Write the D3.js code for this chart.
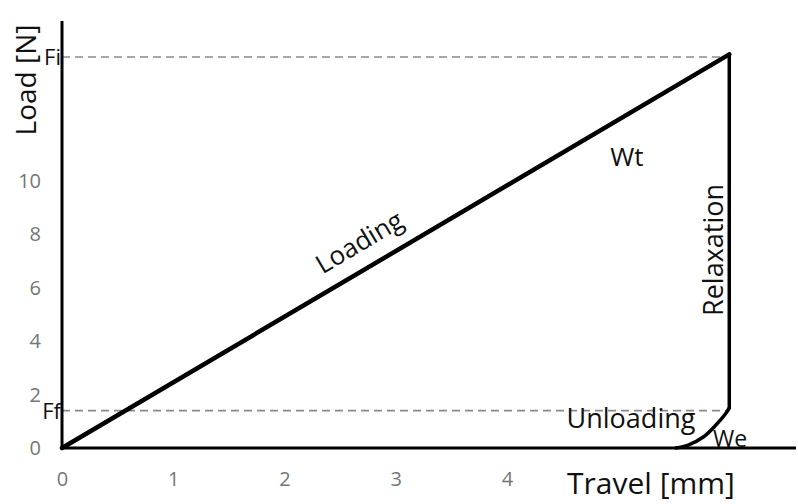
<!DOCTYPE html>
<html>
<head>
<meta charset="utf-8">
<script src="https://cdn.jsdelivr.net/npm/d3@7"></script>
<style>
  html, body { margin: 0; padding: 0; background: #fff; }
  svg { display: block; font-family: "Open Sans", "Noto Sans", sans-serif; }
</style>
</head>
<body>
<svg id="chart" width="798" height="504"></svg>
<script>
// Load–travel cycle: loading ramp, relaxation at constant travel, elastic unloading
const xTicks = [0, 1, 2, 3, 4];
const yTicks = [0, 2, 4, 6, 8, 10];

const loadingTravel = [0, 6.0];
const loadingLoad   = [0, 14.75];

const relaxTravel = [6.0, 6.0];
const relaxLoad   = [14.75, 1.5];

const unloadTravel = [6.0, 5.97, 5.88, 5.77, 5.63, 5.52];
const unloadLoad   = [1.5, 1.3, 0.86, 0.42, 0.11, 0];

const Fi = 14.65;   // initial (peak) load
const Ff = 1.4;     // final load after relaxation
const peakTravel = 6.0;

const svg = d3.select("#chart");

const x = d3.scaleLinear().domain([0, 6.6]).range([62, 796]);
const y = d3.scaleLinear().domain([0, 16]).range([448, 21]);

const zip = (a, b) => a.map((v, i) => [v, b[i]]);

// Reference levels Fi and Ff
svg.append("g")
  .selectAll("line")
  .data([Fi, Ff])
  .join("line")
  .attr("x1", x(0)).attr("x2", x(peakTravel))
  .attr("y1", d => y(d)).attr("y2", d => y(d))
  .attr("stroke", "#8a8a8a")
  .attr("stroke-width", 1.6)
  .attr("stroke-dasharray", "8,5");

// Axes (lines only, labels drawn without tick marks)
const xAxis = d3.axisBottom(x).tickValues(xTicks).tickFormat(d3.format("d")).tickSize(0).tickPadding(24);
const yAxis = d3.axisLeft(y).tickValues(yTicks).tickFormat(d3.format("d")).tickSize(0).tickPadding(21);

const gx = svg.append("g").attr("transform", `translate(0,${y(0)})`).call(xAxis);
const gy = svg.append("g").attr("transform", `translate(${x(0)},0)`).call(yAxis);

[gx, gy].forEach(g => {
  g.attr("font-family", null).attr("font-size", null);
  g.select(".domain").attr("stroke", "#000").attr("stroke-width", 3);
  g.selectAll(".tick text")
    .attr("fill", "#767676")
    .style("font-size", "20px");
});
gx.select(".domain").attr("d", `M${x(0)},0H${x.range()[1]}`);
gy.select(".domain").attr("d", `M0,${y(0)}V${y.range()[1]}`);

// Curve segments
const line = d3.line().x(d => x(d[0])).y(d => y(d[1]));
const smooth = d3.line().x(d => x(d[0])).y(d => y(d[1])).curve(d3.curveCatmullRom);

svg.append("path")
  .attr("d", line(zip(loadingTravel, loadingLoad)))
  .attr("fill", "none").attr("stroke", "#000").attr("stroke-width", 4.5)
  .attr("stroke-linecap", "round");

svg.append("path")
  .attr("d", line(zip(relaxTravel, relaxLoad)))
  .attr("fill", "none").attr("stroke", "#000").attr("stroke-width", 3.5)
  .attr("stroke-linecap", "round");

svg.append("path")
  .attr("d", smooth(zip(unloadTravel, unloadLoad)))
  .attr("fill", "none").attr("stroke", "#000").attr("stroke-width", 3.5)
  .attr("stroke-linecap", "round");

// Text annotations
const txt = (s, px, py, size, opts = {}) => {
  const t = svg.append("text")
    .attr("x", px).attr("y", py)
    .attr("fill", "#111")
    .style("font-size", size + "px")
    .attr("text-anchor", opts.anchor || "middle")
    .text(s);
  if (opts.rotate !== undefined) t.attr("transform", `rotate(${opts.rotate},${px},${py})`);
  return t;
};

txt("Load [N]", 36, 80, 28, { rotate: -90 });
txt("Travel [mm]", 651, 494, 30);
txt("Fi", x(0) - 1, y(Fi) + 8, 22, { anchor: "end" });
txt("Ff", x(0) - 1, y(Ff) + 8, 22, { anchor: "end" });

const slope = Math.atan2(y(0) - y(loadingLoad[1]), x(loadingTravel[1]) - x(0)) * 180 / Math.PI;
txt("Loading", 364, 250, 26, { rotate: -slope });
txt("Wt", 627, 166, 26);
txt("Relaxation", 723, 250, 27, { rotate: -90 });
txt("Unloading", 631, 428, 27);
txt("We", 730, 447, 23);
</script>
</body>
</html>
